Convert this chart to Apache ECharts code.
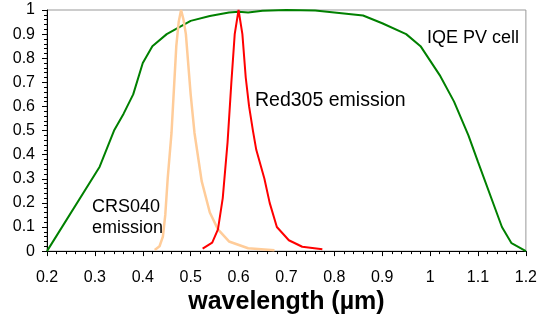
<!DOCTYPE html>
<html>
<head>
<meta charset="utf-8">
<script src="https://cdn.jsdelivr.net/npm/echarts@6/dist/echarts.min.js"></script>
<style>html,body{margin:0;padding:0;background:#fff}#c{width:540px;height:320px}</style>
</head>
<body>
<div id="c"></div>
<script>
// IQE PV cell (wavelength µm, value)
const iqeX = [0.20,0.31,0.34,0.36,0.38,0.40,0.42,0.45,0.50,0.54,0.58,0.60,0.62,0.65,0.70,0.76,0.80,0.86,0.90,0.95,0.98,1.02,1.05,1.08,1.10,1.15,1.17,1.20];
const iqeY = [0,0.35,0.50,0.57,0.65,0.78,0.85,0.90,0.955,0.975,0.99,0.993,0.99,0.997,1.0,0.998,0.99,0.977,0.945,0.90,0.85,0.73,0.62,0.48,0.37,0.10,0.033,0];
// CRS040 emission
const crsX = [0.425,0.435,0.442,0.447,0.452,0.46,0.47,0.475,0.48,0.485,0.49,0.50,0.508,0.523,0.54,0.557,0.58,0.62,0.675];
const crsY = [0.005,0.02,0.06,0.15,0.30,0.49,0.85,0.95,1.0,0.96,0.90,0.65,0.49,0.29,0.16,0.09,0.04,0.012,0.004];
// Red305 emission
const redX = [0.525,0.545,0.557,0.567,0.577,0.585,0.592,0.60,0.608,0.615,0.622,0.63,0.637,0.654,0.665,0.68,0.705,0.733,0.775];
const redY = [0.01,0.035,0.09,0.22,0.45,0.70,0.90,1.0,0.90,0.72,0.60,0.50,0.42,0.30,0.20,0.10,0.045,0.018,0.008];
const labels = {iqe:'IQE PV cell', red:'Red305 emission', crs:'CRS040\nemission', xName:'wavelength (µm)'};

const pair = (xs, ys) => xs.map((x,i)=>[x, ys[i]]);
const fmt = v => String(Math.round(v*10)/10);
const font = 'Liberation Sans, Arial, sans-serif';

const chart = echarts.init(document.getElementById('c'));
chart.setOption({
  animation:false,
  backgroundColor:'#fff',
  grid:{left:47,right:13,top:10,bottom:68,show:true,borderColor:'#999',borderWidth:1,backgroundColor:'transparent'},
  xAxis:{
    type:'value',min:0.2,max:1.2,interval:0.1,
    name:labels.xName,nameLocation:'middle',nameGap:37,
    nameTextStyle:{fontFamily:font,fontSize:25,fontWeight:'bold',color:'#000'},
    axisLine:{lineStyle:{color:'#000',width:1}},
    axisTick:{show:true,inside:false,length:5,lineStyle:{color:'#000'}},
    minorTick:{show:true,splitNumber:5,length:3,lineStyle:{color:'#000'}},
    splitLine:{show:false},
    axisLabel:{formatter:fmt,fontFamily:font,fontSize:16,color:'#000',margin:18}
  },
  yAxis:{
    type:'value',min:0,max:1,interval:0.1,
    axisLine:{show:true,lineStyle:{color:'#000',width:1}},
    axisTick:{show:true,inside:false,length:5,lineStyle:{color:'#000'}},
    minorTick:{show:true,splitNumber:5,length:3,lineStyle:{color:'#000'}},
    splitLine:{show:false},
    axisLabel:{formatter:fmt,fontFamily:font,fontSize:16,color:'#000',margin:12}
  },
  series:[
    {type:'line',data:pair(iqeX,iqeY),symbol:'none',lineStyle:{color:'#008000',width:2},z:2},
    {type:'line',data:pair(crsX,crsY),symbol:'none',lineStyle:{color:'#FFCC99',width:2.5},z:3},
    {type:'line',data:pair(redX,redY),symbol:'none',lineStyle:{color:'#FF0000',width:2},z:4}
  ],
  graphic:[
    {type:'text',left:427,top:29,style:{text:labels.iqe,font:'18px '+font,fill:'#000'}},
    {type:'text',left:255,top:91,style:{text:labels.red,font:'19.5px '+font,fill:'#000'}},
    {type:'text',left:92,top:197,style:{text:labels.crs,font:'18px '+font,fill:'#000',lineHeight:21}}
  ]
});
</script>
</body>
</html>
